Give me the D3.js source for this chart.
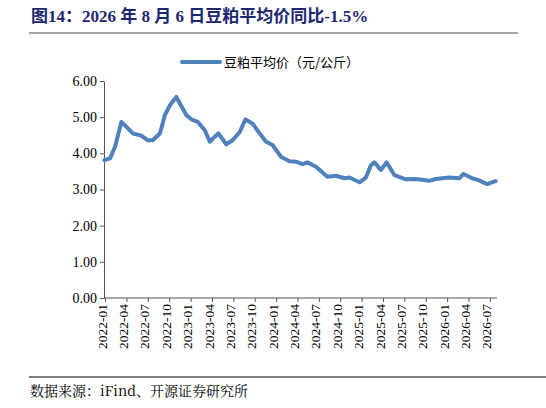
<!DOCTYPE html>
<html><head><meta charset="utf-8">
<script src="https://cdn.jsdelivr.net/npm/d3@7"></script>
<style>body{margin:0;background:#fff}</style>
</head><body><svg id="c" width="546" height="408"></svg>
<script>
// months since 2022-01 (decimal) and price, yuan/kg
var months = [-0.1,0.7,1.4,2.3,3.0,3.9,5.1,6.0,6.7,7.7,8.4,9.1,10.0,11.4,12.1,13.0,14.0,14.7,15.4,15.9,17.0,17.9,18.9,19.7,20.7,21.7,22.6,23.5,24.7,25.9,26.8,27.7,28.4,29.6,31.2,32.4,33.6,34.3,35.7,36.6,37.3,37.8,38.7,39.5,40.6,42.2,43.6,45.5,46.4,48.3,49.7,50.3,51.5,52.4,53.6,54.8];
var prices = [3.81,3.86,4.18,4.87,4.73,4.55,4.49,4.36,4.36,4.55,5.06,5.33,5.56,5.06,4.94,4.87,4.64,4.32,4.46,4.55,4.25,4.36,4.59,4.94,4.82,4.55,4.32,4.23,3.90,3.78,3.77,3.70,3.75,3.63,3.35,3.38,3.31,3.33,3.20,3.33,3.67,3.75,3.54,3.75,3.40,3.28,3.29,3.24,3.29,3.33,3.31,3.43,3.31,3.26,3.15,3.23];
var tickMonths = [0,3,6,9,12,15,18,21,24,27,30,33,36,39,42,45,48,51,54];
var tickLabels = ["2022-01","2022-04","2022-07","2022-10","2023-01","2023-04","2023-07","2023-10","2024-01","2024-04","2024-07","2024-10","2025-01","2025-04","2025-07","2025-10","2026-01","2026-04","2026-07"];
var yTicks = [0,1,2,3,4,5,6];

var svg = d3.select("#c");
var serif = "'Liberation Serif','Times New Roman',serif";
var cjk = "'Noto Sans CJK SC',sans-serif";

svg.append("text").attr("x",31).attr("y",22).attr("fill","#1c2770")
  .attr("font-family",serif+","+cjk).attr("font-weight","bold").attr("font-size",17)
  .text("图14：2026 年 8 月 6 日豆粕平均价同比-1.5%");
svg.append("line").attr("x1",29).attr("x2",518).attr("y1",33).attr("y2",33).attr("stroke","#888").attr("stroke-width",1.5);

var x = d3.scaleLinear().domain([-0.15,55]).range([104,497]);
var y = d3.scaleLinear().domain([0,6]).range([298,81]);

var ya = svg.append("g").attr("transform","translate(104,0)")
  .call(d3.axisLeft(y).tickValues(yTicks).tickFormat(d3.format(".2f")).tickSize(4).tickSizeOuter(0));
ya.selectAll("text").attr("font-family",serif).attr("font-size",14).attr("fill","#000");
ya.selectAll("path,line").attr("stroke","#555");

var xa = svg.append("g").attr("transform","translate(0,298)")
  .call(d3.axisBottom(x).tickValues(tickMonths).tickFormat(function(d,i){return tickLabels[i];}).tickSize(4).tickSizeOuter(0));
xa.select(".domain").attr("d","M104,0H497");
xa.selectAll("path,line").attr("stroke","#555");
xa.selectAll("text").attr("font-family",serif).attr("font-size",13.5).attr("fill","#000")
  .attr("transform","rotate(-90)").attr("text-anchor","end").attr("dy","-0.15em").attr("y",0).attr("x",-6)
  .attr("dominant-baseline","middle");

var line = d3.line().x(function(d,i){return x(months[i]);}).y(function(d){return y(d);}).curve(d3.curveLinear);
svg.append("path").datum(prices).attr("d",line).attr("fill","none")
  .attr("stroke","#4f81bd").attr("stroke-width",4).attr("stroke-linejoin","round").attr("stroke-linecap","round");

// legend
svg.append("line").attr("x1",182).attr("x2",220).attr("y1",62).attr("y2",62).attr("stroke","#4f81bd").attr("stroke-width",4).attr("stroke-linecap","round");
svg.append("text").attr("x",224).attr("y",67).attr("font-family",cjk).attr("font-size",13).attr("fill","#000").text("豆粕平均价（元/公斤）");

svg.append("line").attr("x1",29).attr("x2",546).attr("y1",377).attr("y2",377).attr("stroke","#000").attr("stroke-width",1);
svg.append("text").attr("x",30).attr("y",396).attr("font-family","'Noto Serif CJK SC',"+serif+","+cjk).attr("font-size",14).attr("fill","#000").text("数据来源：iFind、开源证券研究所");
</script></body></html>
